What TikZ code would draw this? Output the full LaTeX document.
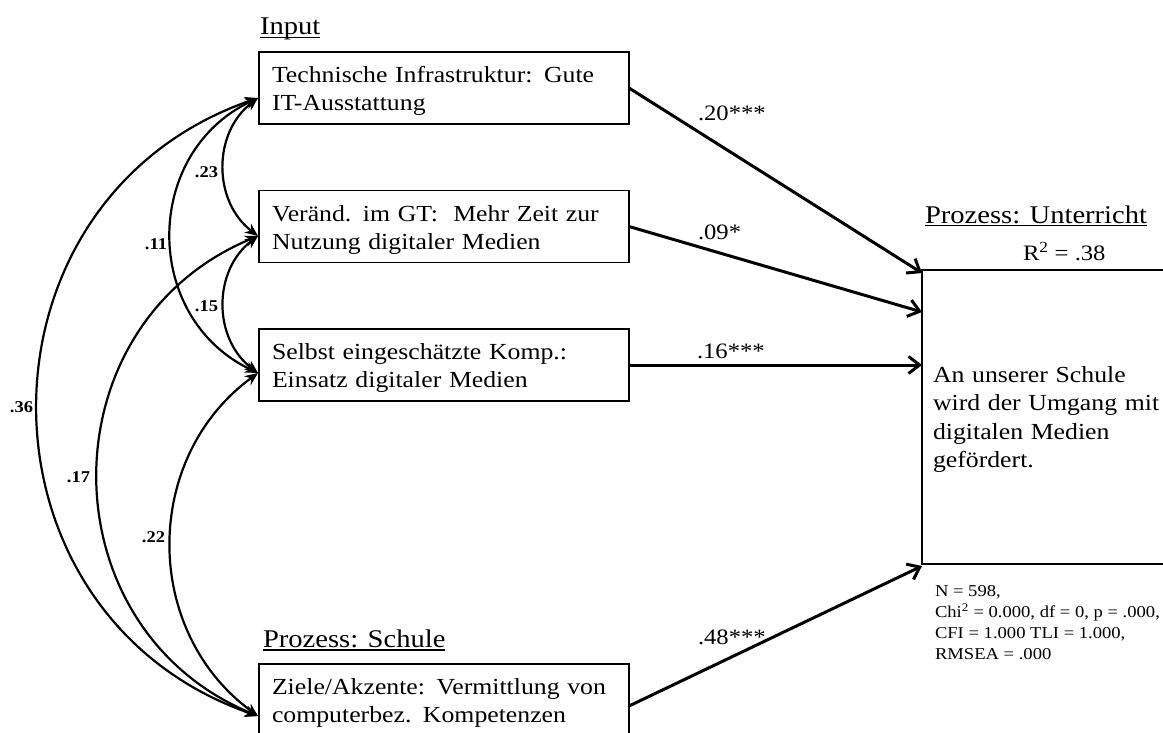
\documentclass[tikz,border=0pt]{standalone}
\usepackage{fontspec}
\setmainfont{Liberation Serif}[FakeStretch=1.12]
\usetikzlibrary{arrows.meta,calc}

% Word-style underline: a fixed rule just below the baseline
\newcommand\wordul[1]{\setbox0\hbox{#1}\rlap{\rule[-3.5pt]{\wd0}{1.3pt}}\box0}

\tikzset{
  every node/.style={inner sep=0pt, outer sep=0pt},
  head/.style={anchor=base west, font=\fontsize{25.5}{30}\selectfont},
  varbox/.style={draw, line width=1.6pt, minimum width=370pt, minimum height=72pt,
    text width=344pt, inner xsep=13pt, align=left, font=\fontsize{23}{28}\selectfont,
    execute at begin node={\rule{0pt}{22pt}}},
  outbox/.style={draw, line width=1.8pt, minimum width=270pt, minimum height=294pt,
    text width=248pt, inner xsep=11pt, align=left, font=\fontsize{23}{28.3}\selectfont,
    execute at begin node={\rule{0pt}{21pt}}},
  fitinfo/.style={anchor=north west, align=left, font=\fontsize{16.6}{21}\selectfont},
  coef/.style={anchor=base west, font=\fontsize{22}{26}\selectfont},
  corr/.style={anchor=east, font=\fontsize{16.5}{19}\selectfont\bfseries},
  regarrow/.style={line width=3pt, -{Straight Barb[length=11pt,width=17pt]}},
  cov/.style={line width=2.2pt, >={Stealth[length=13pt,width=11pt]}, <->},
}

\begin{document}
\begin{tikzpicture}[x=1pt,y=-1pt]
\useasboundingbox (0,0) rectangle (1163,733);
\clip (0,0) rectangle (1163,733);
\fill[white] (0,0) rectangle (1163,733);

% predictors
\node[head] (hin) at (260,35) {\wordul{Input}};
\node[varbox] (b1) at (444,88) {Technische Infrastruktur: Gute\\IT-Ausstattung};
\node[varbox] (b2) at (444,226.5) {Veränd. im GT:~ Mehr Zeit zur\\Nutzung digitaler Medien};
\node[varbox] (b3) at (444,365) {Selbst eingeschätzte Komp.:\\Einsatz digitaler Medien};
\node[head] (hps) at (263,647) {\wordul{Prozess: Schule}};
\node[varbox] (b4) at (444,700) {Ziele/Akzente: Vermittlung von\\computerbez. Kompetenzen};

% outcome
\node[head] (hpu) at (925,223) {\wordul{Prozess: Unterricht}};
\node[anchor=base west, font=\fontsize{22}{26}\selectfont] (r2) at (1023,260) {R\textsuperscript{2} = .38};
\node[outbox] (out) at (1057,417) {An unserer Schule\\wird der Umgang mit\\digitalen Medien\\gefördert.};
\node[fitinfo] (fit) at (935,585.5) {N = 598,\\Chi\textsuperscript{2} = 0.000, df = 0, p = .000,\\CFI = 1.000 TLI = 1.000,\\RMSEA = .000};

% regression paths
\coordinate (s4) at ($(b4.east)+(0,6)$);
\coordinate (e1) at ($(out.north west)+(0,3)$);
\coordinate (e2) at ($(out.north west)+(0,42)$);
\coordinate (e3) at (b3.east -| out.west);
\coordinate (e4) at ($(out.south west)+(0,2)$);
\draw[regarrow] (b1.east) -- (e1);
\draw[regarrow] (b2.east) -- (e2);
\draw[regarrow] (b3.east) -- (e3);
\draw[regarrow] (s4) -- (e4);
\node[coef] (c1) at (698,121) {.20***};
\node[coef] (c2) at (698,240) {.09*};
\node[coef] (c3) at (697,358) {.16***};
\node[coef] (c4) at (698,644) {.48***};

% correlations between predictors
\coordinate (t1) at ($(b1.west)+(-1,10)$);
\coordinate (t2) at ($(b2.west)+(-1,9.5)$);
\coordinate (t3) at ($(b3.west)+(-1,8)$);
\coordinate (t4) at ($(b4.west)+(-1,16)$);
\draw[cov] (t1) .. controls +(-45.4,34.8) and +(-45.4,-34.8) .. (t2);
\draw[cov] (t2) .. controls +(-45.3,34.4) and +(-45.3,-34.4) .. (t3);
\draw[cov] (t1) .. controls +(-115.9,55.0) and +(-115.9,-55.0) .. (t3);
\draw[cov] (t1) .. controls +(-293.4,101.6) and +(-293.4,-101.6) .. (t4);
\draw[cov] (t2) .. controls +(-213.3,88.7) and +(-213.3,-88.7) .. (t4);
\draw[cov] (t3) .. controls +(-116.0,84.9) and +(-116.0,-84.9) .. (t4);
\node[corr] (l23) at (218,172.5) {.23};
\node[corr] (l15) at (218,306) {.15};
\node[corr] (l11) at (167,244.5) {.11};
\node[corr] (l36) at (33,407.5) {.36};
\node[corr] (l17) at (90,477.5) {.17};
\node[corr] (l22) at (165,537.5) {.22};
\end{tikzpicture}
\end{document}
